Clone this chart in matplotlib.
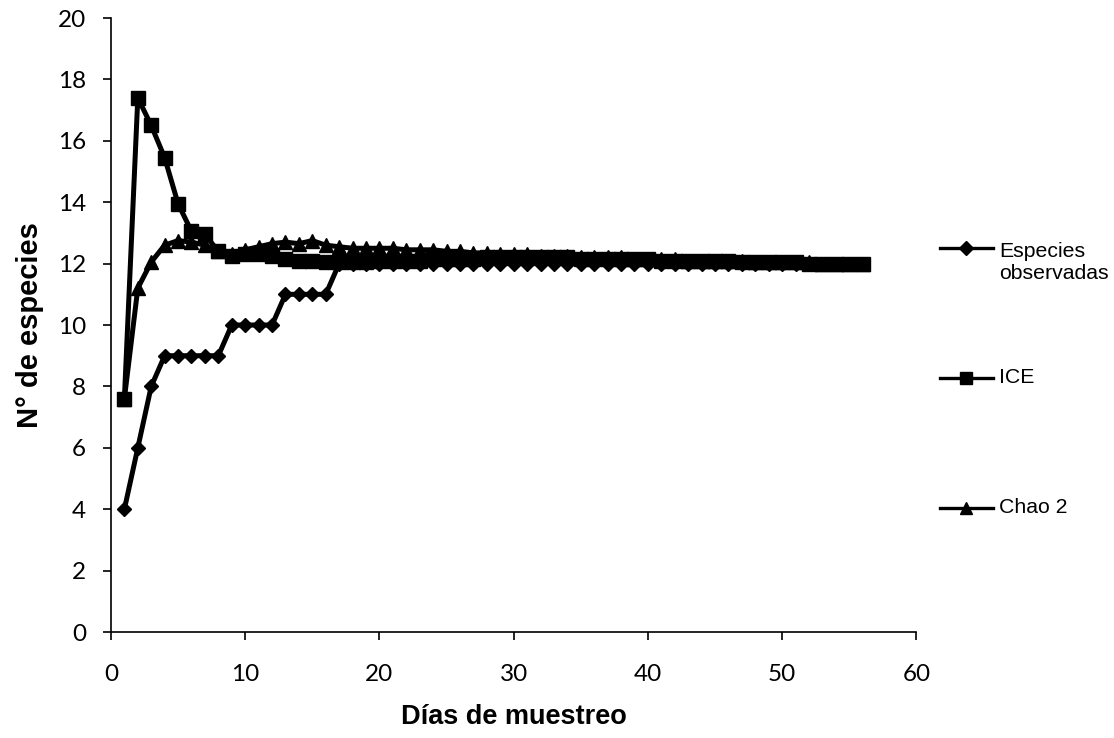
import matplotlib
matplotlib.use('Agg')
import matplotlib.pyplot as plt
from matplotlib.lines import Line2D

# Días de muestreo
dias = list(range(1, 57))

# Especies observadas
observadas = [4, 6, 8, 9, 9, 9, 9, 9, 10, 10, 10, 10, 11, 11, 11, 11,
              12, 12, 12, 12, 12, 12, 12, 12, 12, 12, 12, 12, 12, 12,
              12, 12, 12, 12, 12, 12, 12, 12, 12, 12, 12, 12, 12, 12,
              12, 12, 12, 12, 12, 12, 12, 12, 12, 12, 12, 12]

# ICE
ice = [7.6, 17.4, 16.5, 15.45, 13.95, 13.05, 12.95, 12.4, 12.25, 12.3,
       12.3, 12.25, 12.15, 12.1, 12.1, 12.05, 12.05, 12.05, 12.05, 12.1,
       12.1, 12.1, 12.1, 12.15, 12.15, 12.15, 12.15, 12.2, 12.2, 12.2,
       12.2, 12.2, 12.2, 12.2, 12.15, 12.15, 12.15, 12.15, 12.15, 12.15,
       12.1, 12.1, 12.1, 12.1, 12.1, 12.1, 12.05, 12.05, 12.05, 12.05,
       12.05, 12.0, 12.0, 12.0, 12.0, 12.0]

# Chao 2
chao2 = [7.6, 11.2, 12.05, 12.6, 12.75, 12.7, 12.6, 12.4, 12.3, 12.45,
         12.55, 12.65, 12.7, 12.65, 12.75, 12.6, 12.55, 12.5, 12.5, 12.5,
         12.5, 12.45, 12.45, 12.45, 12.4, 12.4, 12.35, 12.35, 12.3, 12.3,
         12.3, 12.25, 12.25, 12.25, 12.2, 12.2, 12.2, 12.2, 12.15, 12.15,
         12.15, 12.15, 12.1, 12.1, 12.1, 12.1, 12.1, 12.05, 12.05, 12.05,
         12.05, 12.05, 12.0, 12.0, 12.0, 12.0]

series = [
    ('Especies\nobservadas', observadas, 'D', 7.5),
    ('ICE', ice, 's', 10),
    ('Chao 2', chao2, '^', 10),
]

fig = plt.figure(figsize=(11.14, 7.38), dpi=100)
ax = fig.add_axes([0.0996, 0.1436, 0.7230, 0.8320])

for label, vals, mk, ms in series:
    ax.plot(dias, vals, color='black', linewidth=3.6, marker=mk, markersize=ms,
            markerfacecolor='black', markeredgecolor='black', label=label)

ax.set_xlim(0, 60)
ax.set_ylim(0, 20)
ax.set_xticks(range(0, 61, 10))
ax.set_yticks(range(0, 21, 2))
for s in ['top', 'right']:
    ax.spines[s].set_visible(False)
for s in ['left', 'bottom']:
    ax.spines[s].set_linewidth(1.2)
ax.tick_params(direction='out', length=6, width=1.2, labelsize=17.5)
ax.tick_params(axis='x', pad=17)
ax.tick_params(axis='y', pad=12)
for t in ax.get_xticklabels() + ax.get_yticklabels():
    t.set_fontfamily('Lato')

ax.set_xlabel('Días de muestreo', fontsize=19.5, fontweight='bold',
              fontfamily='Liberation Sans')
ax.set_ylabel('N° de especies', fontsize=21, fontweight='bold',
              fontfamily='Liberation Sans')
ax.xaxis.set_label_coords(0.5, -0.138)
ax.xaxis.label.set_va('center')
ax.yaxis.set_label_coords(-0.1006, 0.5)
ax.yaxis.label.set_va('center')

# Leyenda a la derecha
leg_y = [0.664, 0.488, 0.312]
leg_ms = [7, 9, 9]
for (label, vals, mk, ms), y, lms in zip(series, leg_y, leg_ms):
    fig.add_artist(Line2D([0.844, 0.891], [y, y], transform=fig.transFigure,
                          color='black', linewidth=2.4))
    fig.add_artist(Line2D([0.8675], [y], transform=fig.transFigure,
                          color='black', marker=mk, markersize=lms,
                          linestyle='none'))
    ty = y - 0.0195 if '\n' in label else y
    fig.text(0.897, ty, label, fontsize=15.3, fontfamily='Liberation Sans',
             va='center', ha='left', linespacing=1.2)

fig.savefig('out.png', dpi=100)
